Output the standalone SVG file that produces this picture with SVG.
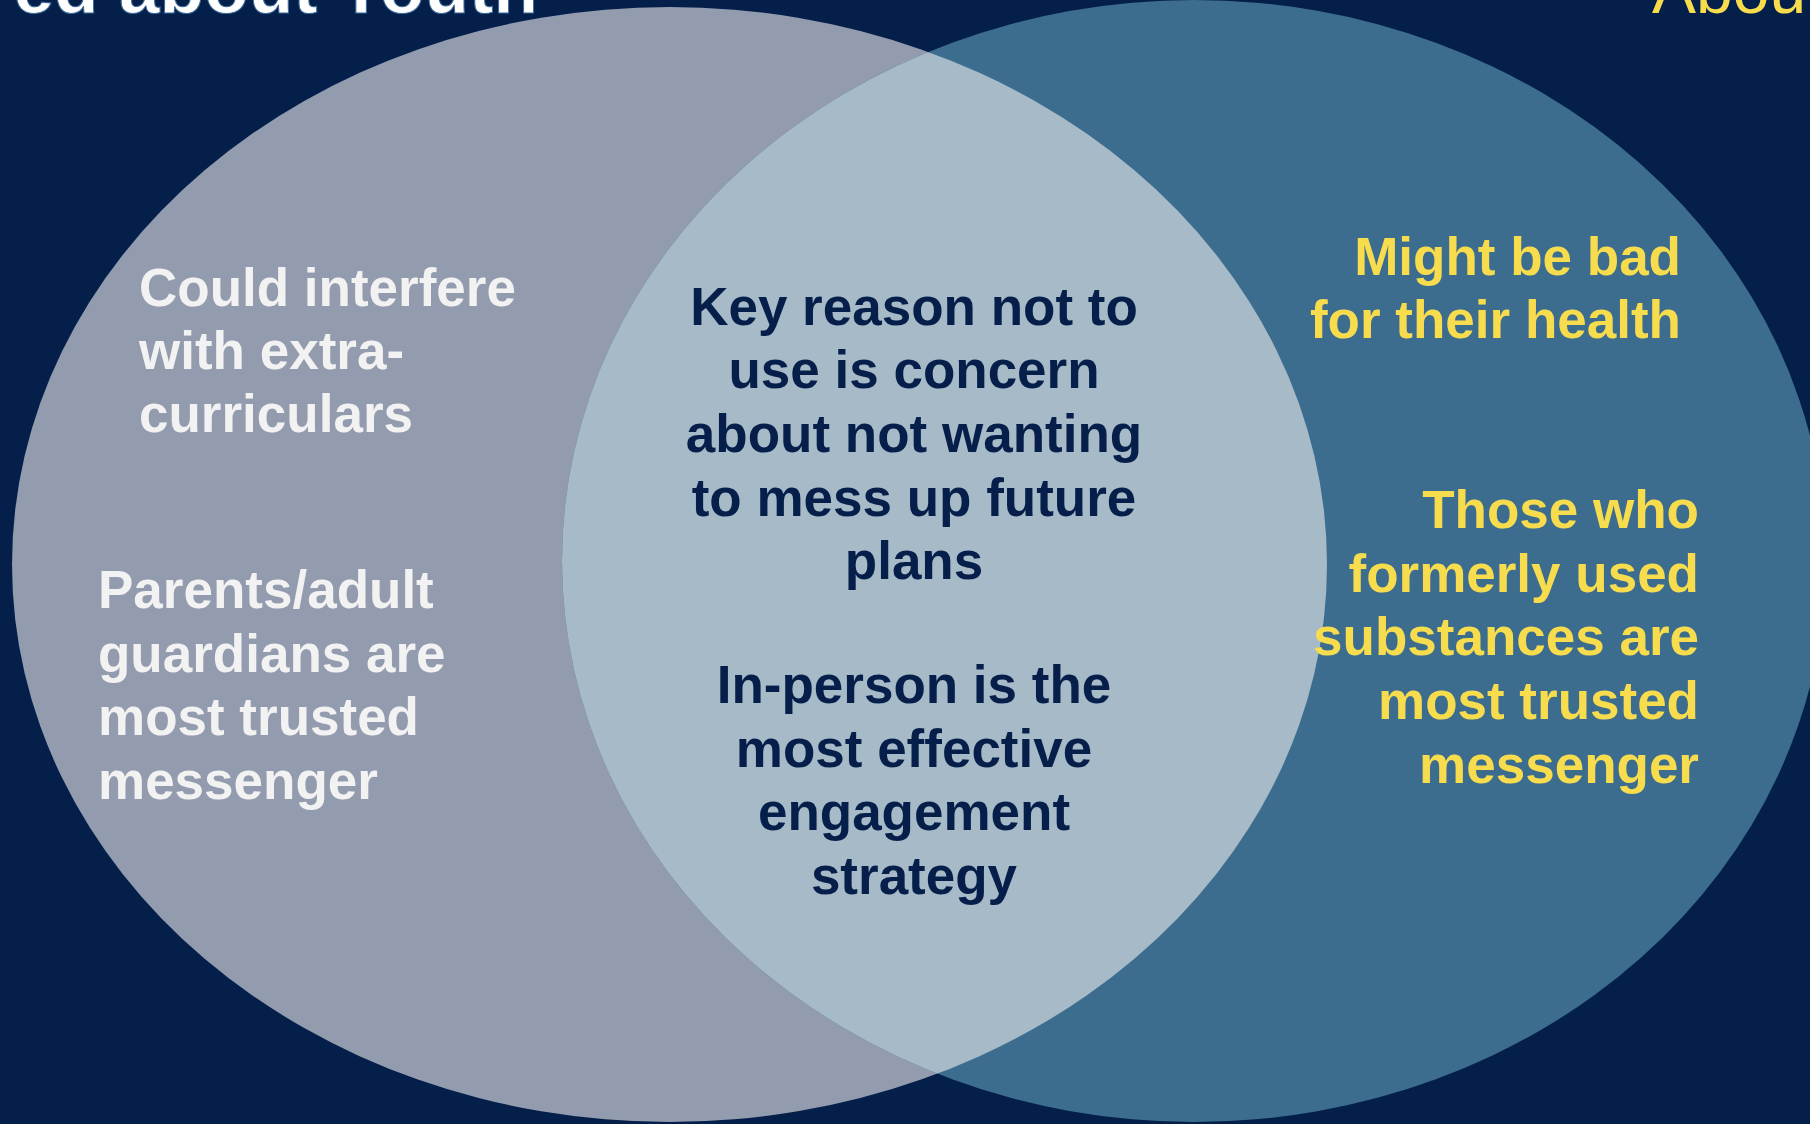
<svg xmlns="http://www.w3.org/2000/svg" width="1810" height="1124" viewBox="0 0 1810 1124">
  <style>
    .t { font-family: "Liberation Sans", Arial, sans-serif; font-weight: bold; font-size: 53px; }
    .light { fill: #f2f2f2; }
    .dark { fill: #061f4a; }
    .gold { fill: #f7dc4e; }
    .mid { text-anchor: middle; }
    .end { text-anchor: end; }
  </style>
  <defs>
    <clipPath id="rightShape">
      <ellipse cx="1194" cy="561" rx="632" ry="561"/>
    </clipPath>
  </defs>

  <rect width="1810" height="1124" fill="#041f4a"/>

  <!-- headings cut off at the top edge -->
  <g id="headings">
    <text x="538" y="13" class="end" font-family="Liberation Sans, Arial, sans-serif" font-weight="bold" font-size="73" fill="#ffffff" stroke="#3a6a98" stroke-width="1">ed about Youth</text>
    <text x="1652" y="13" font-family="Liberation Sans, Arial, sans-serif" font-size="66" fill="#f7dc4e">Abou</text>
  </g>

  <!-- left circle -->
  <g id="left">
    <ellipse cx="669.5" cy="564.5" rx="657.5" ry="557.5" fill="#939bae"/>
  </g>

  <!-- right circle -->
  <g id="right">
    <ellipse cx="1194" cy="561" rx="632" ry="561" fill="#3c6d8f"/>
  </g>

  <!-- overlap of the two circles -->
  <g id="overlap">
    <ellipse cx="669.5" cy="564.5" rx="657.5" ry="557.5" fill="#a7bac8" clip-path="url(#rightShape)"/>
  </g>

  <g id="left-text" class="t light">
    <text x="139" y="306">Could interfere</text>
    <text x="139" y="369">with extra-</text>
    <text x="139" y="432">curriculars</text>
    <text x="98" y="608">Parents/adult</text>
    <text x="98" y="672">guardians are</text>
    <text x="98" y="735">most trusted</text>
    <text x="98" y="799">messenger</text>
  </g>

  <g id="center-text" class="t dark mid">
    <text x="914" y="325">Key reason not to</text>
    <text x="914" y="388">use is concern</text>
    <text x="914" y="452">about not wanting</text>
    <text x="914" y="516">to mess up future</text>
    <text x="914" y="579">plans</text>
    <text x="914" y="703">In-person is the</text>
    <text x="914" y="767">most effective</text>
    <text x="914" y="830">engagement</text>
    <text x="914" y="894">strategy</text>
  </g>

  <g id="right-text" class="t gold end">
    <text x="1681" y="275">Might be bad</text>
    <text x="1681" y="338">for their health</text>
    <text x="1699" y="528">Those who</text>
    <text x="1699" y="592">formerly used</text>
    <text x="1699" y="655">substances are</text>
    <text x="1699" y="719">most trusted</text>
    <text x="1699" y="783">messenger</text>
  </g>

  <g id="connectors"/>
</svg>
